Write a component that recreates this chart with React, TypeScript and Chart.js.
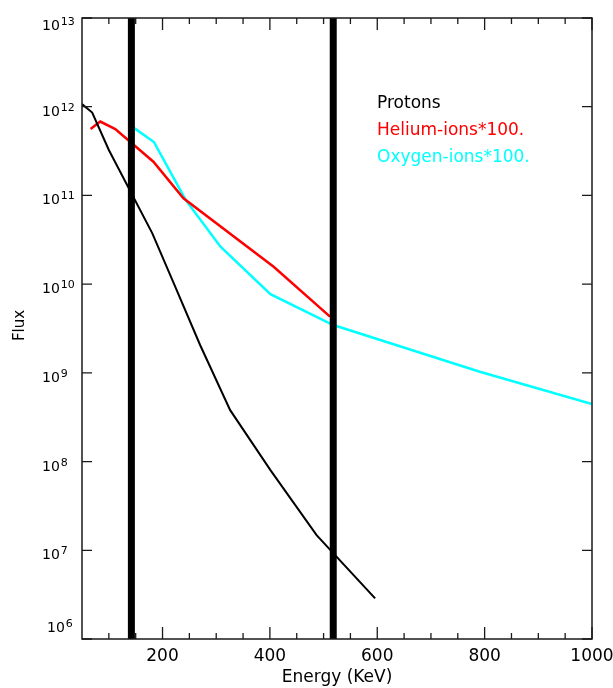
import { useEffect, useRef } from 'react';
import { Chart, registerables } from 'chart.js';

Chart.register(...registerables);

// ---- data ----
const protonEnergy = [50, 69, 100, 181, 221, 270, 326, 401, 487, 596];
const protonFlux = [1.07e12, 8.6e11, 3.25e11, 3.74e10, 1.02e10, 2.06e9, 3.8e8, 8.0e7, 1.48e7, 2.87e6];

const heliumEnergy = [66, 84, 112, 183, 239, 407, 512];
const heliumFlux = [5.6e11, 6.8e11, 5.6e11, 2.4e11, 9.3e10, 1.57e10, 4.3e9];

const oxygenEnergy = [148, 184, 243, 308, 401, 518, 791, 1000];
const oxygenFlux = [5.7e11, 4.0e11, 8.9e10, 2.64e10, 7.7e9, 3.46e9, 1.03e9, 4.45e8];

const markerEnergies = [142, 518];

const xMajorTicks = [200, 400, 600, 800, 1000];
const xMinorTicks = [100, 150, 250, 300, 350, 450, 500, 550, 650, 700, 750, 850, 900, 950];
const yTickExponents = [6, 7, 8, 9, 10, 11, 12, 13];

const xTitle = 'Energy (KeV)';
const yTitle = 'Flux';
const legendLabels = ['Protons', 'Helium-ions*100.', 'Oxygen-ions*100.'];
const seriesColors = ['#000000', '#ff0000', '#00ffff'];

const FONT = '"DejaVu Sans", sans-serif';

const toPoints = (xs: number[], ys: number[]) => xs.map((x, i) => ({ x, y: ys[i] }));

const idlAxesPlugin = {
  id: 'idlAxes',
  afterDatasetsDraw(chart: any) {
    const { ctx, chartArea: a, scales } = chart;
    const xs = scales.x;
    const ys = scales.y;
    ctx.save();
    // frame
    ctx.strokeStyle = '#1a1a1a';
    ctx.lineWidth = 1.5;
    ctx.strokeRect(a.left, a.top, a.right - a.left, a.bottom - a.top);
    // ticks
    ctx.lineWidth = 1.3;
    ctx.beginPath();
    for (const v of xMajorTicks) {
      const px = xs.getPixelForValue(v);
      ctx.moveTo(px, a.bottom);
      ctx.lineTo(px, a.bottom - 12);
      ctx.moveTo(px, a.top);
      ctx.lineTo(px, a.top + 12);
    }
    for (const v of xMinorTicks) {
      const px = xs.getPixelForValue(v);
      ctx.moveTo(px, a.bottom);
      ctx.lineTo(px, a.bottom - 6);
      ctx.moveTo(px, a.top);
      ctx.lineTo(px, a.top + 6);
    }
    for (const e of yTickExponents) {
      const py = ys.getPixelForValue(Math.pow(10, e));
      ctx.moveTo(a.left, py);
      ctx.lineTo(a.left + 10, py);
      ctx.moveTo(a.right, py);
      ctx.lineTo(a.right - 10, py);
    }
    ctx.stroke();

    ctx.fillStyle = '#000';
    // x tick labels
    ctx.font = `17px ${FONT}`;
    ctx.textAlign = 'center';
    ctx.textBaseline = 'alphabetic';
    for (const v of xMajorTicks) {
      ctx.fillText(String(v), xs.getPixelForValue(v), a.bottom + 22);
    }
    // y tick labels 10^n
    const eMin = Math.min(...yTickExponents);
    const eMax = Math.max(...yTickExponents);
    ctx.textAlign = 'left';
    for (const e of yTickExponents) {
      const py = ys.getPixelForValue(Math.pow(10, e));
      let base = py + 9;
      if (e === eMax) base = py + 12;
      if (e === eMin) base = py - 7;
      const x0 = e === eMin ? a.left - 35 : a.left - 40;
      ctx.font = `14px ${FONT}`;
      ctx.fillText('10', x0, base);
      const w = ctx.measureText('10').width;
      ctx.font = `11px ${FONT}`;
      ctx.fillText(String(e), x0 + w + 1, base - 5);
    }
    // x title
    ctx.font = `17px ${FONT}`;
    ctx.textAlign = 'center';
    ctx.fillText(xTitle, (a.left + a.right) / 2, a.bottom + 43);
    // y title
    ctx.save();
    ctx.translate(24, (a.top + a.bottom) / 2 - 3);
    ctx.rotate(-Math.PI / 2);
    ctx.font = `15px ${FONT}`;
    ctx.textAlign = 'center';
    ctx.fillText(yTitle, 0, 0);
    ctx.restore();
    // legend text
    ctx.font = `17px ${FONT}`;
    ctx.textAlign = 'left';
    legendLabels.forEach((t, i) => {
      ctx.fillStyle = seriesColors[i];
      ctx.fillText(t, a.left + 295, a.top + 90 + i * 27);
    });
    ctx.restore();
  },
};

export default function App() {
  const canvasRef = useRef<HTMLCanvasElement | null>(null);

  useEffect(() => {
    if (!canvasRef.current) return;
    const markerSets = markerEnergies.map((x) => ({
      data: [
        { x, y: 1e6 },
        { x, y: 1e13 },
      ],
      borderColor: '#000000',
      borderWidth: 7,
      borderCapStyle: 'butt' as const,
      pointRadius: 0,
    }));
    const chart = new Chart(canvasRef.current, {
      type: 'line',
      data: {
        datasets: [
          ...markerSets,
          {
            label: legendLabels[0],
            data: toPoints(protonEnergy, protonFlux),
            borderColor: seriesColors[0],
            borderWidth: 2,
            pointRadius: 0,
          },
          {
            label: legendLabels[1],
            data: toPoints(heliumEnergy, heliumFlux),
            borderColor: seriesColors[1],
            borderWidth: 2.5,
            pointRadius: 0,
          },
          {
            label: legendLabels[2],
            data: toPoints(oxygenEnergy, oxygenFlux),
            borderColor: seriesColors[2],
            borderWidth: 2.5,
            pointRadius: 0,
          },
        ],
      },
      options: {
        responsive: false,
        animation: false,
        layout: { padding: { left: 82, right: 21, top: 18, bottom: 49 } },
        plugins: { legend: { display: false }, tooltip: { enabled: false } },
        elements: { line: { tension: 0 }, point: { radius: 0 } },
        scales: {
          x: { type: 'linear', min: 50, max: 1000, display: false },
          y: { type: 'logarithmic', min: 1e6, max: 1e13, display: false },
        },
      },
      plugins: [idlAxesPlugin],
    });
    return () => chart.destroy();
  }, []);

  return (
    <div style={{ position: 'fixed', left: 0, top: 0, width: 613, height: 688, background: '#fff' }}>
      <canvas ref={canvasRef} width={613} height={688} />
    </div>
  );
}
